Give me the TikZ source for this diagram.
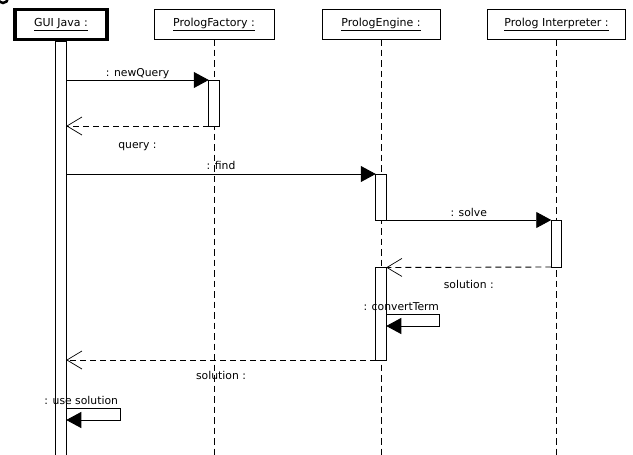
\documentclass[tikz,border=0pt]{standalone}
\usepackage{fontspec}
\setmainfont{DejaVu Sans}
\usetikzlibrary{arrows.meta, positioning, calc}

\tikzset{
  obj/.style={draw, line width=0.9pt, minimum width=#1, minimum height=30pt, inner sep=0pt, outer sep=0pt, font=\fontsize{11}{13}\selectfont},
  act/.style={draw, fill=white, line width=0.9pt, minimum width=10.5pt, minimum height=#1, inner sep=0pt, outer sep=0pt, anchor=north},
  life/.style={line width=0.9pt, dash pattern=on 6.5pt off 4pt},
  call/.style={line width=0.9pt, -{Triangle[length=15pt,width=16pt]}},
  reply/.style={line width=0.9pt, dash pattern=on 6pt off 4pt, -{Straight Barb[length=15pt,width=18pt,line width=0.7pt]}},
  lbl/.style={font=\fontsize{10.8}{13}\selectfont, inner sep=0pt, text height=8pt, text depth=2.5pt}
}

\begin{document}
\begin{tikzpicture}[x=1pt, y=-1pt]
            \fill[white] (0,0) rectangle (633,455);
            \useasboundingbox (0,0) rectangle (633,455);
            \draw[line width=2.5pt] (3,-2) circle (5pt);

            \draw (61,24.5) node[obj=92pt, line width=3.5pt] (gui) {\underline{GUI Java :}};
            \draw (214,24) node[obj=120pt] (fac) {\underline{PrologFactory :}};
            \draw (381,24) node[obj=118pt] (eng) {\underline{PrologEngine :}};
            \draw (556.5,24) node[obj=138pt] (int) {\underline{Prolog Interpreter :}};
            \coordinate (end) at (0,462);

            \draw[life] (fac.south) -- (fac.south |- end);
            \draw[life] (eng.south) -- (eng.south |- end);
            \draw[life] (int.south) -- (int.south |- end);

            \draw (gui |- 0,41.5) node[act=422pt] (guiact) {};
            \draw (fac |- 0,80) node[act=46pt] (facact) {};
            \draw (eng |- 0,174) node[act=46pt] (engact) {};
            \draw (int |- 0,220) node[act=47pt] (intact) {};
            \draw (eng |- 0,267.5) node[act=92.5pt] (engact2) {};

            \path[call]
            (guiact.east |- facact.north) edge node[lbl, above=1pt] {: newQuery} (facact.north west)
            (guiact.east |- engact.north) edge node[lbl, above=1.5pt] {: find} (engact.north west)
            (engact.south east) edge node[lbl, above=1pt] {: solve} (intact.north west);
            \path[reply]
            (facact.south west) edge node[lbl, below=14.5pt] {query :} (guiact.east |- facact.south)
            (intact.south west) edge node[lbl, below=12.5pt] {solution :} (engact2.north east)
            (engact2.south west) edge node[lbl, below=11.5pt] {solution :} (guiact.east |- engact2.south);

            \draw[call] ($(engact2.north east)+(0,46.5)$) node[lbl, above=1pt, xshift=15pt] {: convertTerm}
              -- ++(53.5,0) -- ++(0,12) -- ++(-53.5,0);
            \draw[call] (guiact.east |- 0,408) node[lbl, above=1pt, xshift=15pt] {: use solution}
              -- ++(54,0) -- ++(0,12) -- ++(-54,0);
        \end{tikzpicture}
\end{document}
